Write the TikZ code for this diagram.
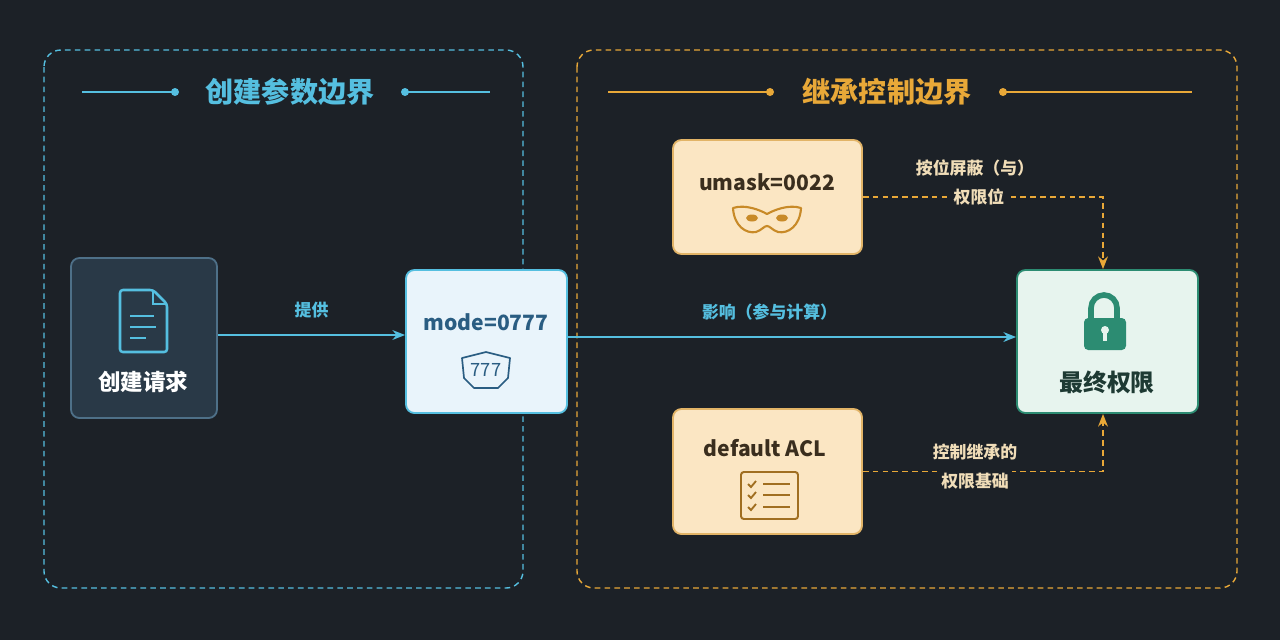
\documentclass[tikz,border=0pt]{standalone}
\usepackage{fontspec}
\setmainfont{Noto Sans CJK SC}
\usepackage{tikz}
\usetikzlibrary{positioning,arrows.meta,shapes.geometric}
\definecolor{bg}{HTML}{1C2127}
\definecolor{cyanl}{HTML}{55BFE0}
\definecolor{orangel}{HTML}{E8A838}
\definecolor{reqfill}{HTML}{293947}
\definecolor{reqline}{HTML}{4E7088}
\definecolor{modefill}{HTML}{E9F4FB}
\definecolor{modetext}{HTML}{2A5D82}
\definecolor{mskfill}{HTML}{FBE6C3}
\definecolor{mskline}{HTML}{E2B467}
\definecolor{msktext}{HTML}{3A2E1E}
\definecolor{mskicon}{HTML}{C88A28}
\definecolor{finfill}{HTML}{E7F4EE}
\definecolor{finline}{HTML}{2C8C72}
\definecolor{fintext}{HTML}{1E3A33}
\definecolor{lbltext}{HTML}{F0DDB8}
\tikzset{
  zone/.style={draw=#1, dashed, line width=1pt, rounded corners=12pt, dash pattern=on 4pt off 3pt},
  box/.style={draw=#1, line width=1.3pt, rounded corners=6pt, inner sep=0pt},
  flow/.style={-{Stealth[length=9pt,width=7pt]}, cyanl, line width=1.2pt},
  ctrl/.style={-{Stealth[length=9pt,width=7pt]}, orangel, line width=1.2pt, dashed, dash pattern=on 4pt off 3pt},
  lbl/.style={font=\bfseries\fontsize{12}{14}\selectfont, text=#1, align=center},
  ttl/.style={font=\bfseries\fontsize{20}{24}\selectfont, text=#1}
}
\begin{document}
\begin{tikzpicture}[x=0.025cm,y=-0.025cm]
  \fill[bg] (0,0) rectangle (1280,640);
  % zones
  \draw[zone=cyanl] (44,50) rectangle (523,588);
  \draw[zone=orangel] (577,50) rectangle (1237,588);
  \node[ttl=cyanl] (ttlA) at (290,92) {创建参数边界};
  \node[ttl=orangel] (ttlB) at (887,92) {继承控制边界};
  \foreach \a/\b/\c in {82/175/cyanl,405/490/cyanl,608/770/orangel,1003/1192/orangel}
    \draw[\c, line width=1pt] (\a,92) -- (\b,92);
  \foreach \p/\c in {175/cyanl,405/cyanl,770/orangel,1003/orangel}
    \fill[\c] (\p,92) circle (4);
  % boxes
  \node[box=reqline, fill=reqfill, minimum width=146*0.025cm, minimum height=160*0.025cm] (req) at (144,338) {};
  \node[box=cyanl, fill=modefill, minimum width=161*0.025cm, minimum height=143*0.025cm] (mode) at (486.5,341.5) {};
  \node[box=mskline, fill=mskfill, minimum width=189*0.025cm, minimum height=114*0.025cm] (umask) at (767.5,197) {};
  \node[box=mskline, fill=mskfill, minimum width=189*0.025cm, minimum height=125*0.025cm] (acl) at (767.5,471.5) {};
  \node[box=finline, fill=finfill, minimum width=181*0.025cm, minimum height=143*0.025cm] (final) at (1107.5,341.5) {};
  % texts
  \node[lbl=white, font=\bfseries\fontsize{16}{18}\selectfont] at (143,382) {创建请求};
  \node[lbl=modetext, font=\bfseries\fontsize{15}{18}\selectfont] at (486,322) {mode=0777};
  \node[lbl=msktext, font=\bfseries\fontsize{15}{18}\selectfont] at (767,182) {umask=0022};
  \node[lbl=msktext, font=\bfseries\fontsize{15}{18}\selectfont] at (765,448) {default ACL};
  \node[lbl=fintext, font=\bfseries\fontsize{17}{20}\selectfont] at (1107,382) {最终权限};
  % icons
  \draw[cyanl, line width=1.8pt, line join=round, rounded corners=2pt] (120,290) -- (153,290) -- (167,304) -- (167,352) -- (120,352) -- cycle;
  \draw[cyanl, line width=1.8pt] (153,290) -- (153,304) -- (167,304);
  \foreach \yy/\w in {316/24,327/26,338/16} \draw[cyanl, line width=1.6pt] (130,\yy) -- ++(\w,0);
  \draw[modetext, line width=1.2pt, line join=round] (462,358) -- (486,352) -- (510,358) -- (508,378) -- (498,388) -- (474,388) -- (464,378) -- cycle;
  \node[lbl=modetext, font=\fontsize{13}{15}\selectfont] at (486,370) {777};
  \draw[mskicon, line width=1.5pt, line join=round] (733,208) .. controls (745,204) and (760,210) .. (767,214) .. controls (774,210) and (789,204) .. (801,208) .. controls (800,226) and (788,234) .. (778,232) .. controls (772,230) and (770,226) .. (767,226) .. controls (764,226) and (762,230) .. (756,232) .. controls (746,234) and (734,226) .. (733,208) -- cycle;
  \fill[mskicon] (752,218) ellipse (6 and 3.5) (782,218) ellipse (6 and 3.5);
  \draw[mskicon!80!black, line width=1.4pt, rounded corners=2pt] (741,472) rectangle (798,519);
  \foreach \yy in {484,495,507} {
    \draw[mskicon!80!black, line width=1.3pt] (748,\yy) -- (751,\yy+3) -- (756,\yy-3);
    \draw[mskicon!80!black, line width=1.3pt] (763,\yy) -- (790,\yy);
  }
  \draw[finline, line width=4pt] (1091,322) -- (1091,308) arc (180:360:13) -- (1117,322);
  \fill[finline, rounded corners=3pt] (1084,318) rectangle (1126,350);
  \fill[finfill] (1105,330) circle (4);
  \draw[finfill, line width=3pt] (1105,330) -- (1105,341);
  % connectors
  \draw[flow] (req.east |- 0,335) -- node[lbl=cyanl, above=8pt] {提供} (mode.west |- 0,335);
  \draw[flow] (mode.east |- 0,337) -- node[lbl=cyanl, above=8pt, pos=0.45] {影响（参与计算）} (final.west |- 0,337);
  \draw[ctrl] (umask.east) -- (1103,197) -- (final.north -| 1103,0);
  \draw[ctrl] (acl.east) -- (1103,471.5) -- (final.south -| 1103,0);
  \node[lbl=lbltext, fill=bg, inner sep=2pt] at (975,168) {按位屏蔽（与）};
  \node[lbl=lbltext, fill=bg, inner sep=2pt] at (979,197) {权限位};
  \node[lbl=lbltext, fill=bg, inner sep=2pt] at (975,452) {控制继承的};
  \node[lbl=lbltext, fill=bg, inner sep=2pt] at (975,481) {权限基础};
\end{tikzpicture}
\end{document}
